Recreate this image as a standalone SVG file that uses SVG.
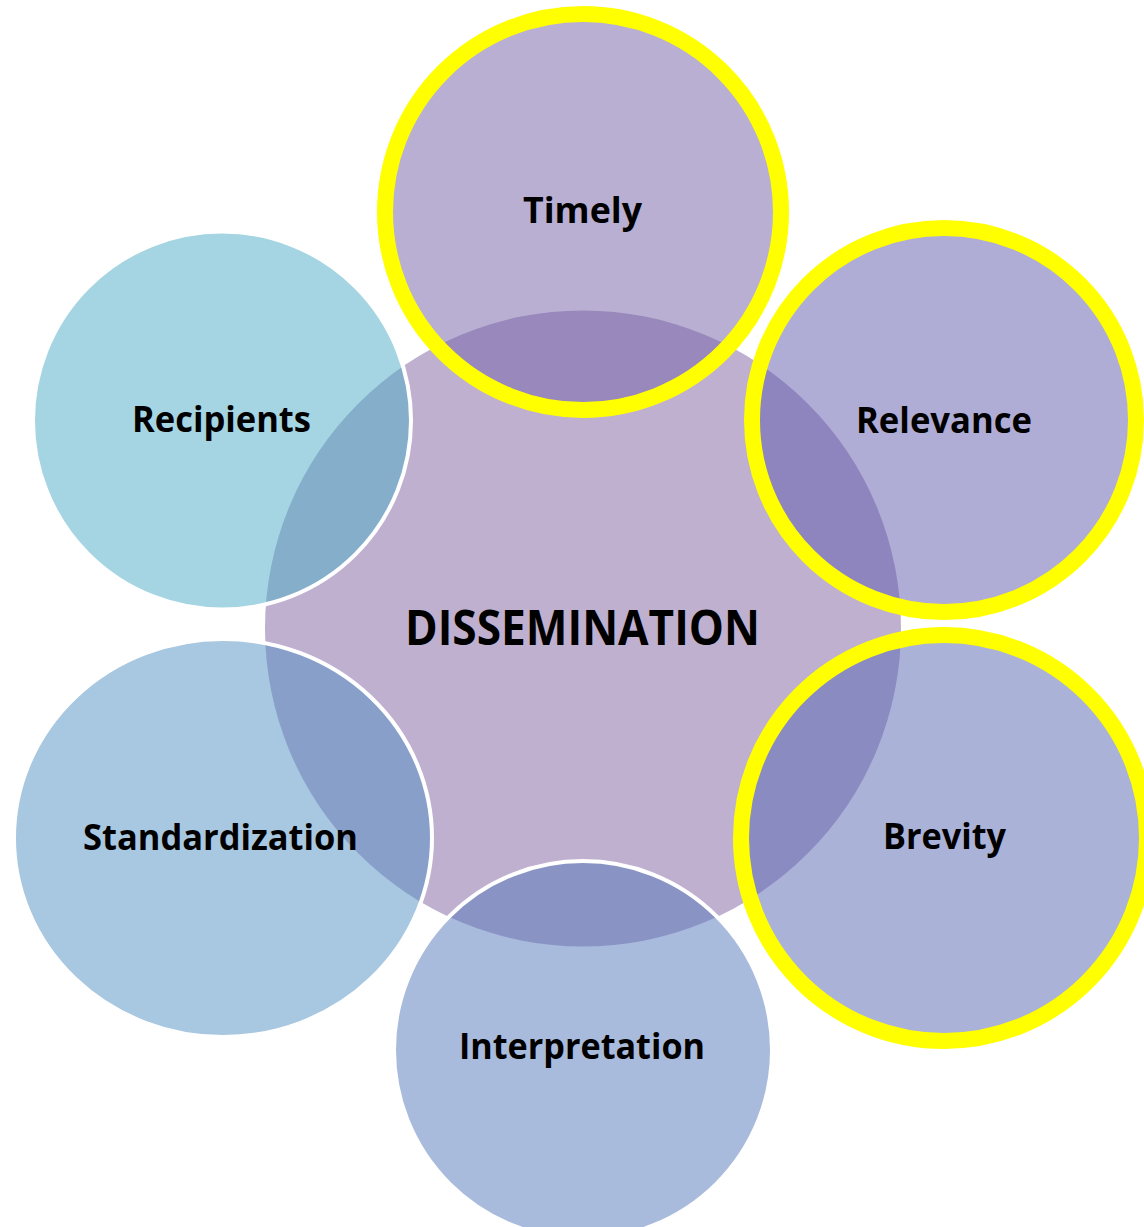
<svg xmlns="http://www.w3.org/2000/svg" width="1144" height="1227" viewBox="0 0 1144 1227">
  <style>
    .lbl { font-family: "Open Sans", "Liberation Sans", sans-serif; font-weight: bold; font-size: 36px; fill: #000; text-anchor: middle; }
    .hub { font-family: "Open Sans", "Liberation Sans", sans-serif; font-weight: bold; font-size: 49px; fill: #000; text-anchor: middle; }
    .sat { fill-opacity: 0.5; stroke: #FFFFFF; stroke-width: 4; }
    .hl { fill-opacity: 0.5; stroke: #FFFF00; stroke-width: 16; }
  </style>
  <rect x="0" y="0" width="1144" height="1227" fill="#FFFFFF"/>
  <g id="connectors"></g>
  <g id="node-dissemination">
    <circle cx="583" cy="628.5" r="318" fill="#BFB0D0"/>
  </g>
  <g id="node-timely">
    <circle class="hl" cx="583" cy="212" r="198" fill="#715FA5"/>
    <text class="lbl" x="582.5" y="223" textLength="119" lengthAdjust="spacingAndGlyphs">Timely</text>
  </g>
  <g id="node-relevance">
    <circle class="hl" cx="944" cy="420" r="192" fill="#5F59AB"/>
    <text class="lbl" x="944" y="433" textLength="176" lengthAdjust="spacingAndGlyphs">Relevance</text>
  </g>
  <g id="node-brevity">
    <circle class="hl" cx="944" cy="838" r="203" fill="#5565B1"/>
    <text class="lbl" x="944.5" y="849" textLength="123" lengthAdjust="spacingAndGlyphs">Brevity</text>
  </g>
  <g id="node-interpretation">
    <circle class="sat" cx="583" cy="1050" r="189" fill="#5377B9"/>
    <text class="lbl" x="582" y="1059" textLength="246" lengthAdjust="spacingAndGlyphs">Interpretation</text>
  </g>
  <g id="node-standardization">
    <ellipse class="sat" cx="223" cy="838" rx="209" ry="199" fill="#518FC1"/>
    <text class="lbl" x="220.5" y="850" textLength="275" lengthAdjust="spacingAndGlyphs">Standardization</text>
  </g>
  <g id="node-recipients">
    <circle class="sat" cx="222" cy="420.5" r="189" fill="#4BABC5"/>
    <text class="lbl" x="221.5" y="432" textLength="179" lengthAdjust="spacingAndGlyphs">Recipients</text>
  </g>
  <g id="hub-label">
    <text class="hub" x="582.5" y="645" textLength="355" lengthAdjust="spacingAndGlyphs">DISSEMINATION</text>
  </g>
</svg>
